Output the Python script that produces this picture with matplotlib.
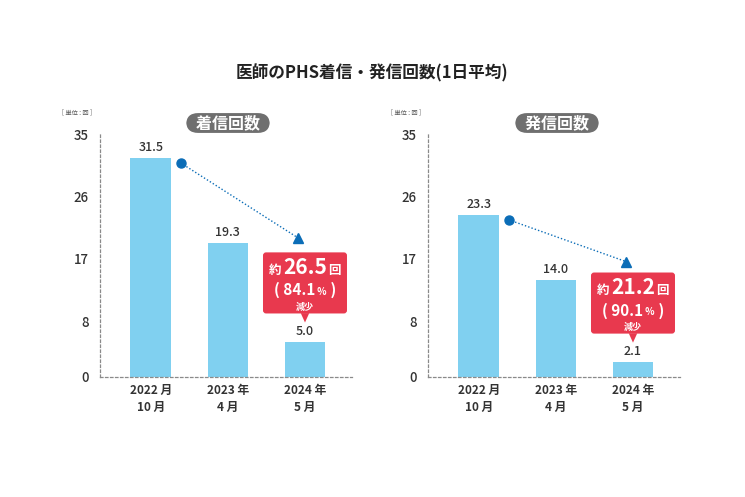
import matplotlib
matplotlib.use("Agg")
import matplotlib.pyplot as plt
from matplotlib.patches import FancyBboxPatch, Polygon
from matplotlib.offsetbox import TextArea, HPacker, VPacker, AnnotationBbox

plt.rcParams['font.family'] = ['Noto Sans CJK JP', 'DejaVu Sans']

# ---- data ----
title = "医師のPHS着信・発信回数(1日平均)"
panel_titles = ["着信回数", "発信回数"]
categories = ["2022 月\n10 月", "2023 年\n4 月", "2024 年\n5 月"]
incoming = [31.5, 19.3, 5.0]
outgoing = [23.3, 14.0, 2.1]
yticks = [0, 8, 17, 26, 35]
reductions = [26.5, 21.2]
reduction_pct = [84.1, 90.1]
unit_label = "[ 単位 : 回 ]"

BAR = "#80d0f0"
DOT = "#0b6db7"
RED = "#e8394e"
GRAY = "#6f6f6f"
TXT = "#333333"

fig = plt.figure(figsize=(7.45, 4.97), dpi=100)
W, H = 745, 497

def ax_rect(x0, x1, ytop, ybot):
    return [x0 / W, (H - ybot) / H, (x1 - x0) / W, (ybot - ytop) / H]

axes = [fig.add_axes(ax_rect(100, 352, 134, 377)),
        fig.add_axes(ax_rect(428, 680, 134, 377))]

series = [incoming, outgoing]
for i, (ax, vals) in enumerate(zip(axes, series)):
    xs = list(range(len(vals)))
    ax.bar(xs, vals, width=0.53, color=BAR, zorder=2)
    ax.set_xlim(-0.66, 2.61)
    ax.set_ylim(0, 35)
    ax.set_yticks(yticks)
    ax.set_yticklabels([str(t) for t in yticks], fontsize=9.5, color=TXT, fontweight='medium')
    ax.set_xticks(xs)
    ax.set_xticklabels(categories, fontsize=8.5, color=TXT, fontweight='bold', linespacing=1.45)
    ax.tick_params(length=0, pad=8)
    ax.tick_params(axis='x', pad=5)
    for s in ['top', 'right']:
        ax.spines[s].set_visible(False)
    for s in ['left', 'bottom']:
        ax.spines[s].set_linestyle((0, (2, 2)))
        ax.spines[s].set_color('#8a8a8a')
        ax.spines[s].set_linewidth(0.9)
    ax.patch.set_alpha(0)
    for x, v in zip(xs, vals):
        ax.annotate(f"{v:.1f}", (x, v), xytext=(0, 3), textcoords='offset points',
                    ha='center', va='bottom', fontsize=9, color=TXT, fontweight='medium')

    # trend arrow from first bar towards callout
    x0, y0 = xs[0] + 0.385, vals[0] - 0.65
    x1 = xs[2] - 0.085
    y1 = (20.0 if i == 0 else 16.6)
    ax.plot([x0, x1], [y0, y1], ls=(0, (1, 1.5)), color=DOT, lw=1.0, zorder=3)
    ax.plot([x0], [y0], 'o', color=DOT, ms=6.5, zorder=4)
    ax.plot([x1], [y1], '^', color=DOT, ms=7, zorder=4)

    # callout box
    xc = xs[2]
    bottom = vals[2] + 4.15
    top = bottom + 8.8
    bw = 1.09
    box = FancyBboxPatch((xc - bw / 2, bottom), bw, top - bottom,
                         boxstyle="round,pad=0,rounding_size=0.04",
                         mutation_aspect=11.1, fc=RED, ec='none', zorder=5)
    ax.add_patch(box)
    tri = Polygon([[xc - 0.055, bottom + 0.05], [xc + 0.055, bottom + 0.05], [xc, bottom - 1.3]],
                  closed=True, fc=RED, ec='none', zorder=5)
    ax.add_patch(tri)
    wt = dict(color='white', fontweight='bold')
    row1 = HPacker(children=[TextArea("約", textprops=dict(fontsize=9, **wt)),
                             TextArea(f"{reductions[i]}", textprops=dict(fontsize=15, **wt)),
                             TextArea("回", textprops=dict(fontsize=9, **wt))],
                   align='baseline', pad=0, sep=1)
    row2 = HPacker(children=[TextArea(f"( {reduction_pct[i]}", textprops=dict(fontsize=11, **wt)),
                             TextArea(" %", textprops=dict(fontsize=7, **wt)),
                             TextArea(" )", textprops=dict(fontsize=11, **wt))],
                   align='baseline', pad=0, sep=0)
    row3 = TextArea("減少", textprops=dict(fontsize=6.5, **wt))
    col = VPacker(children=[row1, row2, row3], align='center', pad=0, sep=3)
    ab = AnnotationBbox(col, (xc, (top + bottom) / 2 - 0.2), xycoords='data', frameon=False,
                        box_alignment=(0.5, 0.5), zorder=6)
    ax.add_artist(ab)

# panel headers (pills)
for cx, t in zip([228, 557], panel_titles):
    fig.text(cx / W, 1 - 123 / H, "\u2002" + t + "\u2002", ha='center', va='center',
             fontsize=11.5, color='white', fontweight='bold',
             bbox=dict(boxstyle='round,pad=0.12,rounding_size=0.75', fc=GRAY, ec='none'))

for ux in [62, 391]:
    fig.text(ux / W, 1 - 112 / H, unit_label, ha='left', va='center', fontsize=4.5, color='#555555')

fig.text(372 / W, 1 - 73 / H, title, ha='center', va='center', fontsize=12,
         fontweight='bold', color='#222222')

fig.savefig("out.png", dpi=100)
